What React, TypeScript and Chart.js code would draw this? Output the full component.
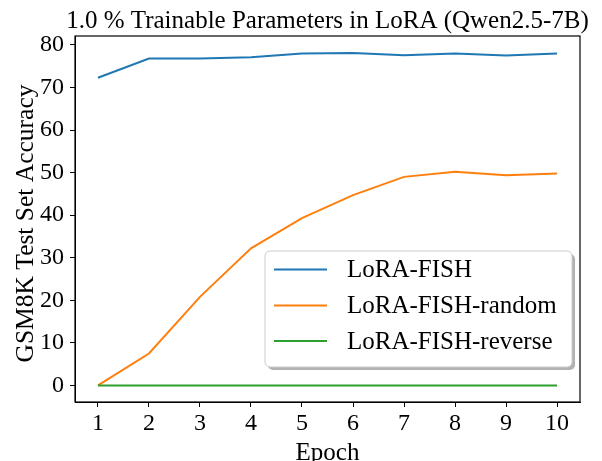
import React, { useEffect, useRef } from "react";
import { Chart, registerables } from "chart.js";

Chart.register(...registerables);

const epochs = [1, 2, 3, 4, 5, 6, 7, 8, 9, 10];
const loraFish = [72.3, 76.8, 76.8, 77.1, 78.0, 78.1, 77.6, 78.0, 77.5, 78.0];
const loraFishRandom = [0, 7.5, 20.8, 32.2, 39.3, 44.7, 49.0, 50.2, 49.4, 49.8];
const loraFishReverse = [0, 0, 0, 0, 0, 0, 0, 0, 0, 0];
const seriesNames = ["LoRA-FISH", "LoRA-FISH-random", "LoRA-FISH-reverse"];
const seriesColors = ["#1f77b4", "#ff7f0e", "#2ca02c"];
const yTicks = [0, 10, 20, 30, 40, 50, 60, 70, 80];
const titleText = "1.0 % Trainable Parameters in LoRA (Qwen2.5-7B)";
const xTitle = "Epoch";
const yTitle = "GSM8K Test Set Accuracy";

const FONT = "'Liberation Serif', 'Times New Roman', serif";

function roundRect(ctx: CanvasRenderingContext2D, x: number, y: number, w: number, h: number, r: number) {
  ctx.beginPath();
  ctx.moveTo(x + r, y);
  ctx.lineTo(x + w - r, y);
  ctx.arcTo(x + w, y, x + w, y + r, r);
  ctx.lineTo(x + w, y + h - r);
  ctx.arcTo(x + w, y + h, x + w - r, y + h, r);
  ctx.lineTo(x + r, y + h);
  ctx.arcTo(x, y + h, x, y + h - r, r);
  ctx.lineTo(x, y + r);
  ctx.arcTo(x, y, x + r, y, r);
  ctx.closePath();
}

const decorPlugin = {
  id: "decor",
  afterDatasetsDraw(chart: any) {
    const ctx: CanvasRenderingContext2D = chart.ctx;
    const a = chart.chartArea;
    ctx.save();
    // frame
    ctx.strokeStyle = "#000";
    ctx.lineWidth = 1.2;
    ctx.strokeRect(a.left, a.top, a.right - a.left, a.bottom - a.top);
    // title
    ctx.fillStyle = "#000";
    ctx.font = `25px ${FONT}`;
    ctx.textAlign = "center";
    ctx.textBaseline = "alphabetic";
    ctx.fillText(titleText, (a.left + a.right) / 2, 28);
    // x title
    ctx.font = `25px ${FONT}`;
    ctx.fillText(xTitle, (a.left + a.right) / 2, 460);
    // y title
    ctx.save();
    ctx.font = `25.5px ${FONT}`;
    ctx.translate(33, 223.5);
    ctx.rotate(-Math.PI / 2);
    ctx.textBaseline = "alphabetic";
    ctx.fillText(yTitle, 0, 0);
    ctx.restore();

    // legend
    const lx = 265, ly = 251, lw = 307, lh = 116;
    ctx.fillStyle = "rgba(0,0,0,0.3)";
    roundRect(ctx, lx + 3, ly + 3, lw, lh, 5);
    ctx.fill();
    ctx.fillStyle = "#ffffff";
    roundRect(ctx, lx, ly, lw, lh, 5);
    ctx.fill();
    ctx.strokeStyle = "#cccccc";
    ctx.lineWidth = 1;
    ctx.stroke();
    const rows = [269.5, 305.5, 341];
    chart.data.datasets.forEach((ds: any, i: number) => {
      const y = rows[i];
      ctx.strokeStyle = ds.borderColor;
      ctx.lineWidth = 2;
      ctx.beginPath();
      ctx.moveTo(274, y);
      ctx.lineTo(327, y);
      ctx.stroke();
      ctx.fillStyle = "#000";
      ctx.font = `25px ${FONT}`;
      ctx.textAlign = "left";
      ctx.textBaseline = "middle";
      ctx.fillText(ds.label, 347, y + 1);
    });
    ctx.restore();
  },
};

export default function App() {
  const ref = useRef<HTMLCanvasElement>(null);
  useEffect(() => {
    if (!ref.current) return;
    const series = [loraFish, loraFishRandom, loraFishReverse];
    const chart = new Chart(ref.current, {
      type: "line",
      data: {
        datasets: series.map((vals, i) => ({
          label: seriesNames[i],
          data: epochs.map((x, j) => ({ x, y: vals[j] })),
          borderColor: seriesColors[i],
          backgroundColor: seriesColors[i],
          borderWidth: 2,
          pointRadius: 0,
          tension: 0,
          fill: false,
          order: 2 - i,
        })),
      },
      options: {
        animation: false,
        responsive: false,
        devicePixelRatio: 1,
        layout: { padding: { top: 36, right: 22, left: 0, bottom: 0 } },
        plugins: { legend: { display: false }, tooltip: { enabled: false }, title: { display: false } },
        scales: {
          x: {
            type: "linear",
            min: 0.55,
            max: 10.45,
            afterBuildTicks: (s: any) => {
              s.ticks = epochs.map((v) => ({ value: v }));
            },
            afterFit: (s: any) => {
              s.height = 59;
            },
            ticks: { color: "#000", font: { family: FONT, size: 24 }, padding: 2, autoSkip: false, maxRotation: 0 },
            grid: { display: true, drawOnChartArea: false, drawTicks: true, tickLength: 5, color: "#000", lineWidth: 1 },
            border: { display: true, color: "#000" },
          },
          y: {
            type: "linear",
            min: -3.9,
            max: 82.1,
            afterBuildTicks: (s: any) => {
              s.ticks = yTicks.map((v) => ({ value: v }));
            },
            afterFit: (s: any) => {
              s.width = 75;
            },
            ticks: { color: "#000", font: { family: FONT, size: 24 }, padding: 6 },
            grid: { display: true, drawOnChartArea: false, drawTicks: true, tickLength: 5, color: "#000", lineWidth: 1 },
            border: { display: true, color: "#000" },
          },
        },
      },
      plugins: [decorPlugin],
    });
    return () => chart.destroy();
  }, []);
  return (
    <div style={{ position: "fixed", left: 0, top: 0, width: 602, height: 461, background: "#fff" }}>
      <canvas ref={ref} width={602} height={461} style={{ width: 602, height: 461 }} />
    </div>
  );
}
